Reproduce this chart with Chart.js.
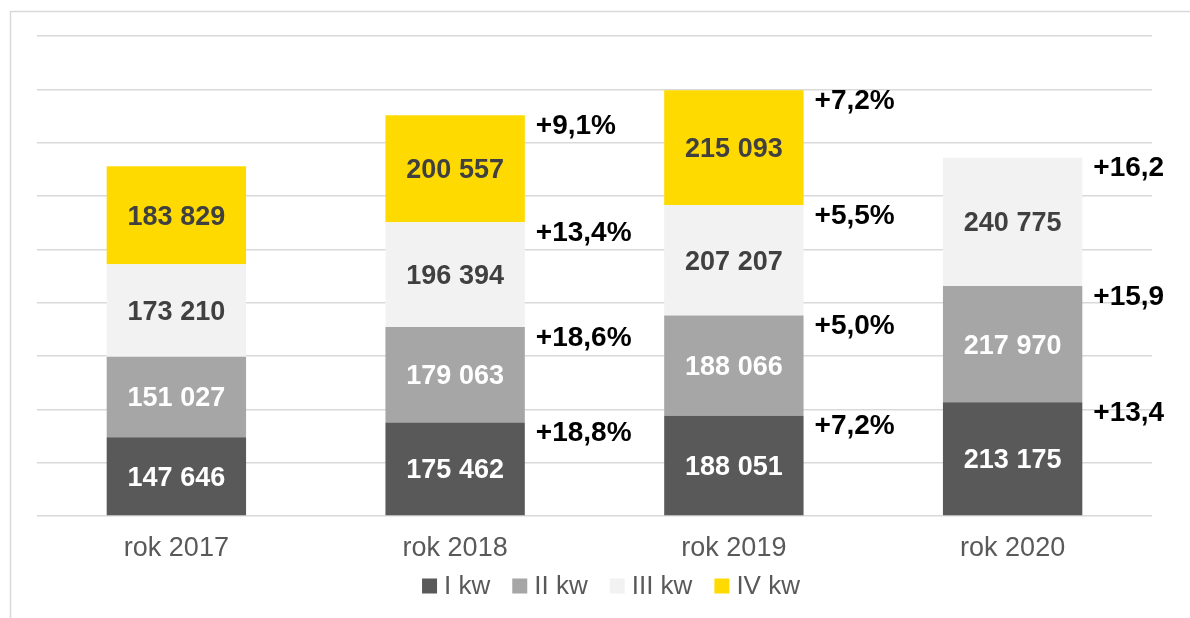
<!DOCTYPE html>
<html lang="pl">
<head>
<meta charset="UTF-8">
<title>Kwartały</title>
<script src="https://cdn.jsdelivr.net/npm/chart.js"></script>
<style>
  body { margin: 0; background: #fff; }
  canvas { display: block; }
</style>
</head>
<body>
<canvas id="myChart" width="1190" height="618"></canvas>
<script>
// data
const years = ['rok 2017', 'rok 2018', 'rok 2019', 'rok 2020'];
const quarterNames = ['I kw', 'II kw', 'III kw', 'IV kw'];
const q1 = [147646, 175462, 188051, 213175];
const q2 = [151027, 179063, 188066, 217970];
const q3 = [173210, 196394, 207207, 240775];
const q4 = [183829, 200557, 215093, null];
// year-over-year growth shown right of each segment
const growthQ1 = [null, '+18,8%', '+7,2%', '+13,4'];
const growthQ2 = [null, '+18,6%', '+5,0%', '+15,9'];
const growthQ3 = [null, '+13,4%', '+5,5%', '+16,2'];
const growthQ4 = [null, '+9,1%', '+7,2%', null];

const colors = ['#595959', '#a6a6a6', '#f2f2f2', '#ffda00'];
const labelColors = ['#ffffff', '#ffffff', '#404040', '#404040'];
const FONT = '"Liberation Sans", Arial, sans-serif';

function fmt(n) {
  return String(n).replace(/\B(?=(\d{3})+(?!\d))/g, ' ');
}

const series = [q1, q2, q3, q4];
const growth = [growthQ1, growthQ2, growthQ3, growthQ4];

const frame = {
  id: 'frame',
  beforeDraw(chart) {
    const c = chart.ctx;
    c.save();
    c.fillStyle = '#fff';
    c.fillRect(0, 0, chart.width, chart.height);
    c.strokeStyle = '#d9d9d9';
    c.lineWidth = 1.5;
    c.beginPath();
    c.moveTo(10.5, chart.height);
    c.lineTo(10.5, 11.5);
    c.lineTo(chart.width, 11.5);
    c.stroke();
    c.restore();
  }
};

const labels = {
  id: 'labels',
  afterDatasetsDraw(chart) {
    const c = chart.ctx;
    c.save();
    c.textAlign = 'center';
    c.textBaseline = 'middle';
    chart.data.datasets.forEach((ds, i) => {
      chart.getDatasetMeta(i).data.forEach((bar, j) => {
        if (ds.data[j] == null) return;
        c.font = 'bold 27px ' + FONT;
        c.fillStyle = labelColors[i];
        c.fillText(fmt(ds.data[j]), bar.x, (bar.y + bar.base) / 2 + 2);
        const g = growth[i][j];
        if (g) {
          c.save();
          c.font = 'bold 28px ' + FONT;
          c.textAlign = 'left';
          c.fillStyle = '#000';
          c.fillText(g, bar.x + bar.width / 2 + 11, bar.y + 11);
          c.restore();
        }
      });
    });
    c.restore();
  }
};

const legendPlugin = {
  id: 'customLegend',
  afterDraw(chart) {
    const c = chart.ctx;
    c.save();
    c.font = '26px ' + FONT;
    c.textBaseline = 'middle';
    const box = 15, gap = 7, space = 22;
    const widths = quarterNames.map(t => c.measureText(t).width);
    const total = widths.reduce((a, w) => a + box + gap + w, 0) + space * (quarterNames.length - 1);
    let x = 611 - total / 2;
    const y = 586;
    quarterNames.forEach((t, i) => {
      c.fillStyle = colors[i];
      c.fillRect(x, y - box / 2, box, box);
      x += box + gap;
      c.fillStyle = '#595959';
      c.fillText(t, x, y + 1);
      x += widths[i] + space;
    });
    c.restore();
  }
};

const ctx = document.getElementById('myChart').getContext('2d');
new Chart(ctx, {
  type: 'bar',
  data: {
    labels: years,
    datasets: series.map((d, i) => ({
      label: quarterNames[i],
      data: d,
      backgroundColor: colors[i],
      borderWidth: 0,
      barPercentage: 0.5,
      categoryPercentage: 1
    }))
  },
  options: {
    responsive: false,
    animation: false,
    layout: { padding: { left: 37, right: 38, top: 36, bottom: 42 } },
    plugins: {
      legend: { display: false },
      tooltip: { enabled: false }
    },
    scales: {
      x: {
        stacked: true,
        grid: { display: false, drawTicks: false },
        border: { display: false },
        ticks: { color: '#595959', font: { family: FONT, size: 27 }, padding: 16 },
        afterFit: s => { s.height = 60; }
      },
      y: {
        stacked: true,
        min: 0,
        max: 900000,
        ticks: { display: false, stepSize: 100000 },
        grid: { color: '#d9d9d9', lineWidth: 1.5, drawTicks: false },
        border: { display: false },
        afterFit: s => { s.width = 0; }
      }
    }
  },
  plugins: [frame, labels, legendPlugin]
});
</script>
</body>
</html>
